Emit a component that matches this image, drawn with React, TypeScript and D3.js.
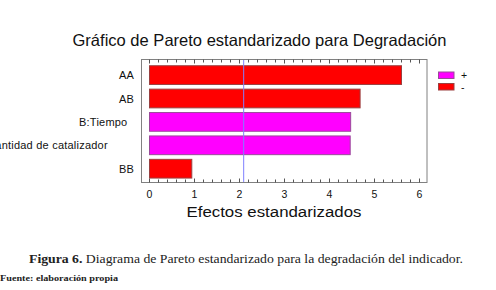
import React from "react";
import * as d3 from "d3";

const categories = ["AA", "AB", "B:Tiempo  ", "A:Cantidad de catalizador        ", "BB"];
const effects = [5.6, 4.68, 4.47, 4.46, 0.94];
const signs = ["-", "-", "+", "+", "-"];
const legendItems = ["+", "-"];
const xTicks = [0, 1, 2, 3, 4, 5, 6];
const criticalValue = 2.093;

const title = "Gráfico de Pareto estandarizado para Degradación";
const xTitle = "Efectos estandarizados";
const caption = "Diagrama de Pareto estandarizado para la degradación del indicador.";
const captionLead = "Figura 6.";
const source = "Fuente: elaboración propia";

const colors: Record<string, string> = { "+": "#ff00ff", "-": "#ff0000" };
const strokes: Record<string, string> = { "+": "#9a4a9a", "-": "#9a4040" };

export default function App() {
  const W = 496, H = 290;
  const frame = { left: 141.5, right: 427, top: 59.5, bottom: 182.5 };
  const x = d3.scaleLinear().domain([0, 6]).range([149.5, 419.5]);
  const y = d3.scaleBand<string>().domain(categories).range([63.4, 180.4]).paddingInner(0.2).paddingOuter(0.1);
  const minor = d3.range(0, 6.0001, 0.2);
  const sans = "'Liberation Sans', Arial, sans-serif";
  const serif = "'Liberation Serif', 'DejaVu Serif', serif";

  return (
    <svg width={W} height={H} style={{ position: "absolute", left: 0, top: 0, background: "#fff" }}>
      <rect x={0} y={0} width={W} height={H} fill="#fff" />
      <text x={259.5} y={45.5} textAnchor="middle" fontFamily={sans} fontSize={16.5} fill="#111"
        textLength={374} lengthAdjust="spacingAndGlyphs">{title}</text>

      {categories.map((c, i) => (
        <rect key={c} x={x(0)} y={y(c)!} width={x(effects[i]) - x(0)} height={y.bandwidth()}
          fill={colors[signs[i]]} stroke={strokes[signs[i]]} strokeWidth={1} />
      ))}

      <line x1={x(criticalValue)} x2={x(criticalValue)} y1={frame.top} y2={frame.bottom} stroke="#7f80ff" strokeWidth={1} />

      <rect x={frame.left} y={frame.top} width={frame.right - frame.left} height={frame.bottom - frame.top}
        fill="none" stroke="#808080" strokeWidth={1} />

      {minor.map((v, i) => {
        const major = Math.abs(v - Math.round(v)) < 1e-6;
        const len = major ? 4 : 3;
        return (
          <g key={i}>
            <line x1={x(v)} x2={x(v)} y1={frame.bottom} y2={frame.bottom - len} stroke="#555" />
            <line x1={x(v)} x2={x(v)} y1={frame.top} y2={frame.top + len} stroke="#555" />
          </g>
        );
      })}

      {xTicks.map(t => (
        <text key={t} x={x(t)} y={197.5} textAnchor="middle" fontFamily={sans} fontSize={10.5} fill="#111">{t}</text>
      ))}

      {categories.map(c => (
        <text key={c} x={134} y={y(c)! + y.bandwidth() / 2 + 4} textAnchor="end" fontFamily={sans} fontSize={11}
          letterSpacing={0.22} fill="#111" style={{ whiteSpace: "pre" }}>{c}</text>
      ))}

      <text x={274} y={217} textAnchor="middle" fontFamily={sans} fontSize={15.5} fill="#111"
        textLength={175} lengthAdjust="spacingAndGlyphs">{xTitle}</text>

      {legendItems.map((s, i) => (
        <g key={s}>
          <rect x={438.5} y={72 + i * 11.5} width={15.5} height={6.5} fill={colors[s]} stroke={strokes[s]} strokeWidth={1} />
          <text x={461} y={79 + i * 11.5} fontFamily={sans} fontSize={10.5} fill="#111">{s}</text>
        </g>
      ))}

      <text x={246} y={262.5} textAnchor="middle" fontFamily={serif} fontSize={11.5} fill="#222"
        textLength={434} lengthAdjust="spacingAndGlyphs">
        <tspan fontWeight="bold">{captionLead}</tspan> {caption}
      </text>
      <text x={0} y={280.5} fontFamily={serif} fontSize={8.5} fontWeight="bold" fill="#222"
        textLength={118} lengthAdjust="spacingAndGlyphs">{source}</text>
    </svg>
  );
}
